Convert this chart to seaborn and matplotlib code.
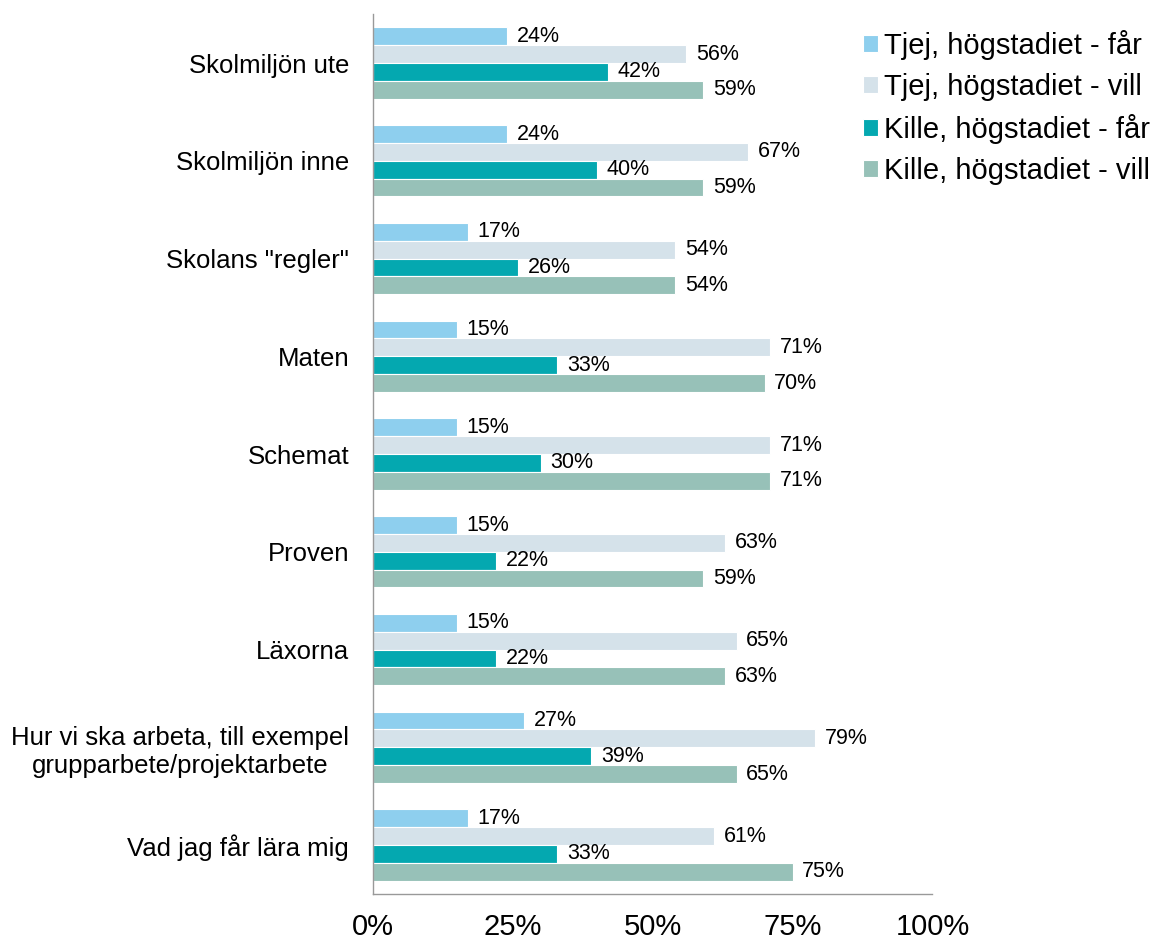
import pandas as pd
import seaborn as sns
import matplotlib.pyplot as plt

categories = ["Skolmiljön ute", "Skolmiljön inne", 'Skolans "regler"', "Maten",
              "Schemat", "Proven", "Läxorna",
              "Hur vi ska arbeta, till exempel\ngrupparbete/projektarbete",
              "Vad jag får lära mig"]
series = ["Tjej, högstadiet - får", "Tjej, högstadiet - vill",
          "Kille, högstadiet - får", "Kille, högstadiet - vill"]
tjej_far = [24, 24, 17, 15, 15, 15, 15, 27, 17]
tjej_vill = [56, 67, 54, 71, 71, 63, 65, 79, 61]
kille_far = [42, 40, 26, 33, 30, 22, 22, 39, 33]
kille_vill = [59, 59, 54, 70, 71, 59, 63, 65, 75]
x_ticks = [0, 25, 50, 75, 100]
colors = ["#8ECFEE", "#D5E2EA", "#04A8B0", "#97C1B8"]

rows = []
for name, vals in zip(series, [tjej_far, tjej_vill, kille_far, kille_vill]):
    for cat, v in zip(categories, vals):
        rows.append({"kategori": cat, "serie": name, "andel": v})
df = pd.DataFrame(rows)

sns.set_style("white")
plt.rcParams['font.family'] = ['Liberation Sans', 'DejaVu Sans']
plt.rcParams['text.color'] = 'black'
plt.rcParams['xtick.color'] = 'black'
plt.rcParams['ytick.color'] = 'black'

fig = plt.figure(figsize=(11.54, 9.42), dpi=100)
ax = fig.add_axes([0.323, 0.051, 0.485, 0.934])

sns.barplot(data=df, y="kategori", x="andel", hue="serie", orient="h",
            order=categories, hue_order=series, palette=colors, saturation=1,
            width=0.73, edgecolor="white", linewidth=0.8, ax=ax)

# value labels at bar ends
for cont in ax.containers:
    ax.bar_label(cont, labels=[f"{b.get_width():.0f}%" for b in cont],
                 padding=7, fontsize=15.5, color="black")

ax.set_xlim(0, 100)
ax.set_ylim(len(categories) - 0.5, -0.5)
ax.set_xticks(x_ticks)
ax.set_xticklabels([f"{t}%" for t in x_ticks], fontsize=21)
ax.set_yticks(range(len(categories)))
ax.set_yticklabels(categories, fontsize=18.5)
for lab in ax.get_yticklabels():
    lab.set_multialignment("center")
ax.set_yticks([i - 0.5 for i in range(len(categories) + 1)], minor=True)
ax.tick_params(axis="y", which="major", length=0, pad=17)
ax.tick_params(axis="y", which="minor", length=7, width=1, color="#999999", direction="out")
ax.tick_params(axis="x", length=9, width=1, color="#999999", labelcolor="black",
               direction="out", pad=5)
ax.set_xlabel("")
ax.set_ylabel("")
sns.despine(ax=ax)
for s in ["left", "bottom"]:
    ax.spines[s].set_color("#999999")
    ax.spines[s].set_linewidth(1)

leg = ax.legend(loc="upper left", bbox_to_anchor=(0.748, 0.968),
                bbox_transform=fig.transFigure, frameon=False, fontsize=21,
                handlelength=0.5, handleheight=0.5, handletextpad=0.2,
                labelspacing=0.44, borderpad=0, borderaxespad=0)

plt.savefig("out.png", dpi=100, facecolor="w")
